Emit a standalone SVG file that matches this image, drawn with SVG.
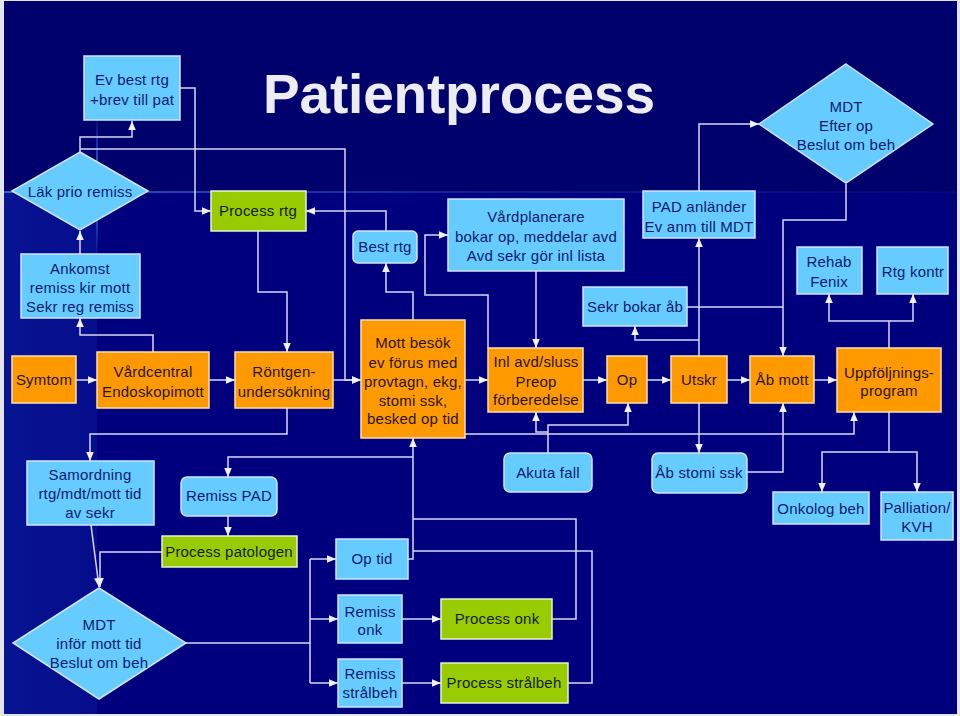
<svg xmlns="http://www.w3.org/2000/svg" width="960" height="716" viewBox="0 0 960 716">
<defs>
<marker id="ah" markerUnits="userSpaceOnUse" markerWidth="9" markerHeight="9" viewBox="0 0 10 10" refX="10" refY="5" orient="auto">
<path d="M0,0.8 L10,5 L0,9.2 Z" fill="#f0f0ff"/>
</marker>
<linearGradient id="hglow" x1="0" y1="0" x2="1" y2="0">
<stop offset="0" stop-color="#66aaff" stop-opacity="0.9"/>
<stop offset="0.6" stop-color="#3366ff" stop-opacity="0.35"/>
<stop offset="1" stop-color="#3366ff" stop-opacity="0.1"/>
</linearGradient>
<linearGradient id="vglow" x1="0" y1="0" x2="0" y2="1">
<stop offset="0" stop-color="#3377ff" stop-opacity="0"/>
<stop offset="0.5" stop-color="#3388ff" stop-opacity="0.9"/>
<stop offset="1" stop-color="#3377ff" stop-opacity="0"/>
</linearGradient>
<linearGradient id="leftband" x1="0" y1="0" x2="1" y2="0">
<stop offset="0" stop-color="#1028a8"/>
<stop offset="1" stop-color="#0a1a9a"/>
</linearGradient>
<style>
.lb{fill:#66ccff;stroke:#d0e4ff;stroke-width:1.5}
.or{fill:#ff9900;stroke:#ffe0b0;stroke-width:1.5}
.gr{fill:#99cc00;stroke:#e8f0d0;stroke-width:1.5}
text{font-family:"Liberation Sans",Arial,sans-serif;font-size:15px;text-anchor:middle;letter-spacing:0.2px}
.tb{fill:#0d1a70}
.to{fill:#2a1400}
.tg{fill:#142000}
.c{fill:none;stroke:#d8d8f4;stroke-width:1.5}
.a{marker-end:url(#ah)}
</style>
</defs>
<rect x="0" y="0" width="960" height="716" fill="#e4e4ec"/>
<rect x="4" y="1" width="953" height="713" fill="#00007e"/>
<rect x="4" y="1" width="953" height="191" fill="#00006c"/>
<rect x="4" y="192" width="93" height="522" fill="url(#leftband)" opacity="0.5"/>
<rect x="4" y="191" width="953" height="2" fill="url(#hglow)" opacity="0.6"/>
<rect x="96" y="110" width="2" height="150" fill="url(#vglow)"/>
<g id="title"><text x="459" y="113" style="font-size:55px;font-weight:bold;fill:#ececf2;letter-spacing:0" textLength="392" lengthAdjust="spacing">Patientprocess</text></g>

<g id="connectors">
<path class="c a" d="M80,254 V231"/>
<path class="c a" d="M80,152 V137 H132 V121"/>
<path class="c a" d="M80,149 H345 V380 H361"/>
<path class="c a" d="M180,88 H195 V211 H211"/>
<path class="c a" d="M386,231 V211 H306"/>
<path class="c a" d="M413,320 V292 H386 V263"/>
<path class="c a" d="M258,231 V292 H287 V352"/>
<path class="c a" d="M153,352 V335 H80 V318"/>
<path class="c a" d="M76,380 H97"/>
<path class="c a" d="M209,380 H235"/>
<path class="c a" d="M333,380 H361"/>
<path class="c a" d="M465,380 H488"/>
<path class="c a" d="M488,348 V295 H425 V235 H448"/>
<path class="c a" d="M536,271 V348"/>
<path class="c a" d="M583,380 H607"/>
<path class="c a" d="M647,380 H671"/>
<path class="c a" d="M727,380 H750"/>
<path class="c a" d="M814,380 H837"/>
<path class="c a" d="M699,356 V238"/>
<path class="c a" d="M699,340 H635 V326"/>
<path class="c a" d="M699,191 V124 H759"/>
<path class="c a" d="M846,184 V220 H783 V356"/>
<path class="c" d="M687,307 H783"/>
<path class="c a" d="M889,348 V321 H829 V294"/>
<path class="c a" d="M889,321 H913 V294"/>
<path class="c a" d="M287,408 V434 H90 V461"/>
<path class="c a" d="M91,525 L99,587"/>
<path class="c a" d="M162,552 H100 V587"/>
<path class="c a" d="M228,516 V536"/>
<path class="c a" d="M413,457 H228 V477"/>
<path class="c a" d="M408,559 H413 V438"/>
<path class="c" d="M552,619 H576 V519 H413"/>
<path class="c" d="M568,683 H592 V551 H413"/>
<path class="c" d="M186,643 H310 M310,559 V683"/>
<path class="c a" d="M310,559 H336"/>
<path class="c a" d="M310,619 H338"/>
<path class="c a" d="M310,683 H338"/>
<path class="c a" d="M402,619 H441"/>
<path class="c a" d="M402,683 H441"/>
<path class="c a" d="M548,453 V425 H628 V403"/>
<path class="c a" d="M548,432 H536 V412"/>
<path class="c a" d="M465,434 H854 V412"/>
<path class="c a" d="M699,403 V453"/>
<path class="c a" d="M747,472 H783 V403"/>
<path class="c a" d="M889,412 V452 H822 V492"/>
<path class="c a" d="M889,452 H917 V492"/>
</g>

<g id="ev-best-rtg"><rect class="lb" x="84" y="56" width="96" height="64"/><text class="tb" x="132" y="85">Ev best rtg</text><text class="tb" x="132" y="105">+brev till pat</text></g>
<g id="lak-prio"><polygon class="lb" points="80,152 148,191 80,230 12,191"/><text class="tb" x="80" y="197">Läk prio remiss</text></g>
<g id="ankomst"><rect class="lb" x="21" y="254" width="119" height="64"/><text class="tb" x="80" y="274">Ankomst</text><text class="tb" x="80" y="293">remiss kir mott</text><text class="tb" x="80" y="312">Sekr reg remiss</text></g>
<g id="process-rtg"><rect class="gr" x="211" y="191" width="95" height="40"/><text class="tg" x="258" y="216">Process rtg</text></g>
<g id="best-rtg"><rect class="lb" x="353" y="231" width="64" height="32" rx="5"/><text class="tb" x="385" y="252">Best rtg</text></g>
<g id="vardplanerare"><rect class="lb" x="448" y="199" width="176" height="72"/><text class="tb" x="536" y="222">Vårdplanerare</text><text class="tb" x="536" y="242">bokar op, meddelar avd</text><text class="tb" x="536" y="261">Avd sekr gör inl lista</text></g>
<g id="pad-anlander"><rect class="lb" x="643" y="191" width="112" height="47"/><text class="tb" x="699" y="212">PAD anländer</text><text class="tb" x="699" y="232">Ev anm till MDT</text></g>
<g id="mdt-efter"><polygon class="lb" points="846,64 933,124 846,183 759,124"/><text class="tb" x="846" y="112">MDT</text><text class="tb" x="846" y="131">Efter op</text><text class="tb" x="846" y="150">Beslut om beh</text></g>
<g id="sekr-bokar"><rect class="lb" x="583" y="287" width="104" height="39"/><text class="tb" x="635" y="312">Sekr bokar åb</text></g>
<g id="rehab"><rect class="lb" x="797" y="247" width="65" height="47"/><text class="tb" x="829" y="267">Rehab</text><text class="tb" x="829" y="287">Fenix</text></g>
<g id="rtg-kontr"><rect class="lb" x="877" y="247" width="71" height="47"/><text class="tb" x="913" y="277">Rtg kontr</text></g>
<g id="symtom"><rect class="or" x="12" y="356" width="64" height="47"/><text class="to" x="44" y="385">Symtom</text></g>
<g id="vardcentral"><rect class="or" x="97" y="352" width="112" height="56"/><text class="to" x="153" y="377">Vårdcentral</text><text class="to" x="153" y="397">Endoskopimott</text></g>
<g id="rontgen"><rect class="or" x="235" y="352" width="98" height="56"/><text class="to" x="284" y="377">Röntgen-</text><text class="to" x="284" y="397">undersökning</text></g>
<g id="mott-besok"><rect class="or" x="361" y="320" width="104" height="118"/><text class="to" x="413" y="348">Mott besök</text><text class="to" x="413" y="368">ev förus med</text><text class="to" x="413" y="387">provtagn, ekg,</text><text class="to" x="413" y="406">stomi ssk,</text><text class="to" x="413" y="424">besked op tid</text></g>
<g id="inl-avd"><rect class="or" x="488" y="348" width="95" height="64"/><text class="to" x="536" y="367">Inl avd/sluss</text><text class="to" x="536" y="387">Preop</text><text class="to" x="536" y="405">förberedelse</text></g>
<g id="op"><rect class="or" x="607" y="356" width="40" height="47"/><text class="to" x="627" y="385">Op</text></g>
<g id="utskr"><rect class="or" x="671" y="356" width="56" height="47"/><text class="to" x="699" y="385">Utskr</text></g>
<g id="ab-mott"><rect class="or" x="750" y="356" width="64" height="47"/><text class="to" x="782" y="385">Åb mott</text></g>
<g id="uppfoljning"><rect class="or" x="837" y="348" width="104" height="64"/><text class="to" x="889" y="378">Uppföljnings-</text><text class="to" x="889" y="396">program</text></g>
<g id="samordning"><rect class="lb" x="27" y="461" width="127" height="64"/><text class="tb" x="90" y="480">Samordning</text><text class="tb" x="90" y="499">rtg/mdt/mott tid</text><text class="tb" x="90" y="518">av sekr</text></g>
<g id="remiss-pad"><rect class="lb" x="181" y="477" width="96" height="39" rx="6"/><text class="tb" x="229" y="501">Remiss PAD</text></g>
<g id="process-patologen"><rect class="gr" x="162" y="536" width="135" height="31"/><text class="tg" x="229" y="557">Process patologen</text></g>
<g id="mdt-infor"><polygon class="lb" points="99,588 186,643 99,699 13,643"/><text class="tb" x="99" y="630">MDT</text><text class="tb" x="99" y="649">inför mott tid</text><text class="tb" x="99" y="668">Beslut om beh</text></g>
<g id="op-tid"><rect class="lb" x="336" y="539" width="72" height="40"/><text class="tb" x="372" y="564">Op tid</text></g>
<g id="remiss-onk"><rect class="lb" x="338" y="595" width="64" height="48"/><text class="tb" x="370" y="617">Remiss</text><text class="tb" x="370" y="635">onk</text></g>
<g id="remiss-stralbeh"><rect class="lb" x="338" y="659" width="64" height="48"/><text class="tb" x="370" y="679">Remiss</text><text class="tb" x="370" y="698">strålbeh</text></g>
<g id="process-onk"><rect class="gr" x="441" y="599" width="111" height="40"/><text class="tg" x="497" y="624">Process onk</text></g>
<g id="process-stralbeh"><rect class="gr" x="441" y="663" width="127" height="40"/><text class="tg" x="504" y="688">Process strålbeh</text></g>
<g id="akuta-fall"><rect class="lb" x="504" y="453" width="88" height="39" rx="6"/><text class="tb" x="548" y="478">Akuta fall</text></g>
<g id="ab-stomi"><rect class="lb" x="652" y="453" width="95" height="40" rx="6"/><text class="tb" x="699" y="478">Åb stomi ssk</text></g>
<g id="onkolog-beh"><rect class="lb" x="773" y="492" width="96" height="32"/><text class="tb" x="821" y="514">Onkolog beh</text></g>
<g id="palliation"><rect class="lb" x="881" y="492" width="72" height="48"/><text class="tb" x="917" y="513">Palliation/</text><text class="tb" x="917" y="532">KVH</text></g>
</svg>
